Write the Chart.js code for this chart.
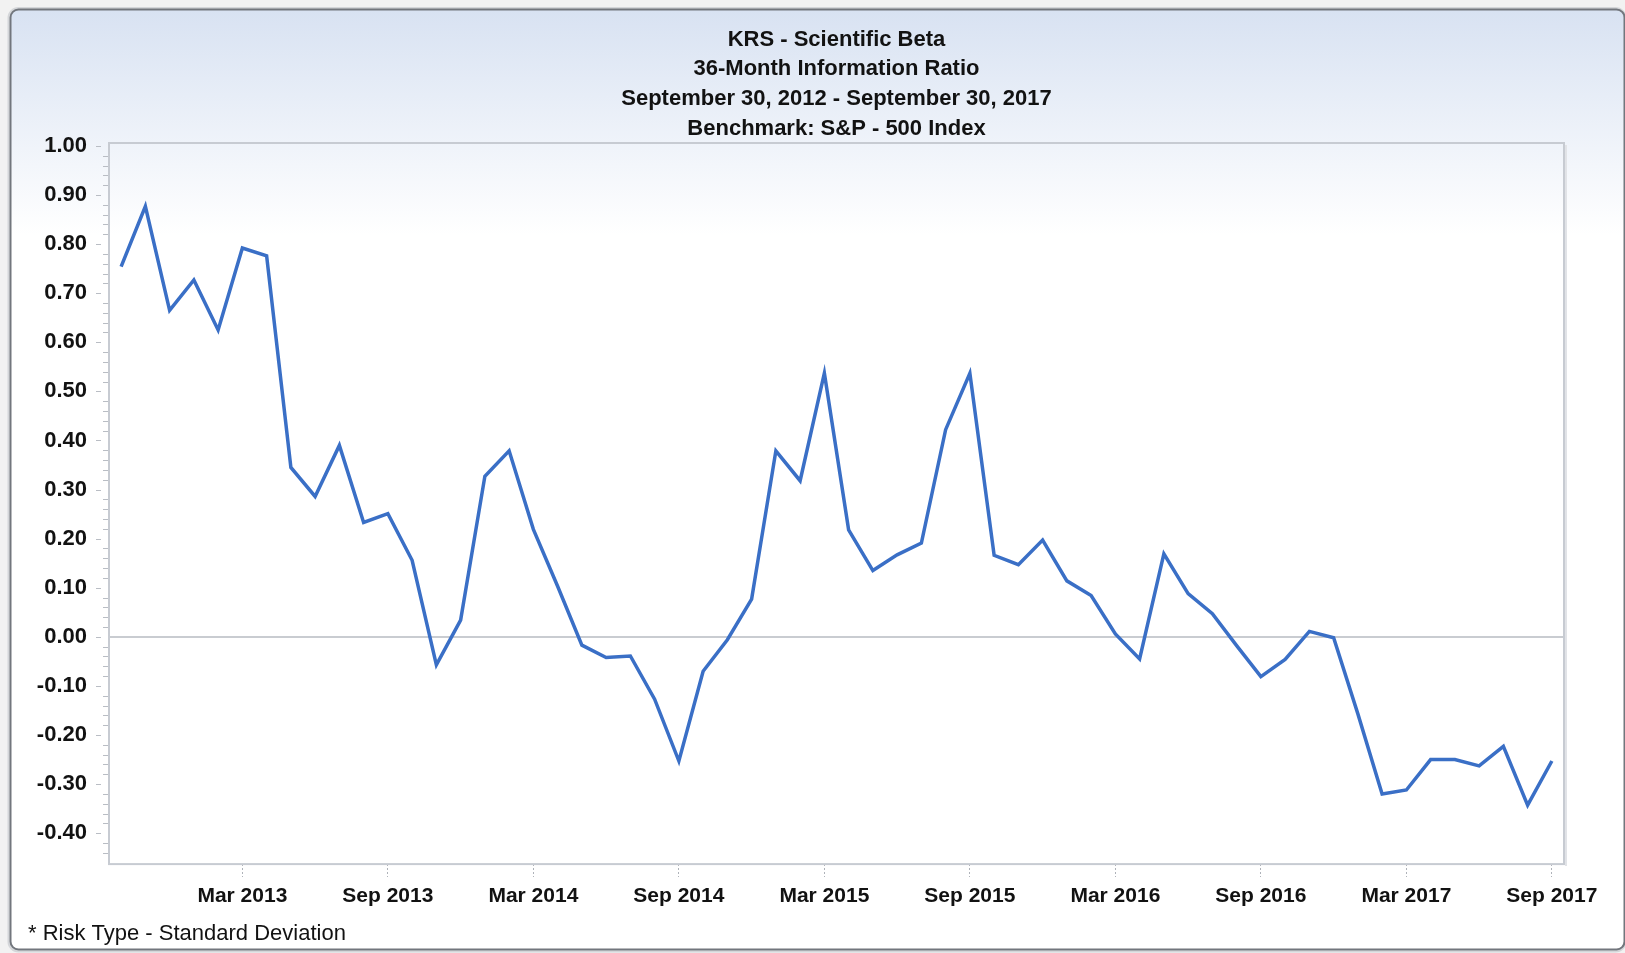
<!DOCTYPE html>
<html>
<head>
<meta charset="utf-8">
<script src="https://cdn.jsdelivr.net/npm/chart.js@4/dist/chart.umd.min.js"></script>
<style>
  html, body { margin: 0; padding: 0; background: #f2f2f2; overflow: hidden; }
  canvas { display: block; }
</style>
</head>
<body>
<canvas id="c" width="1625" height="953"></canvas>
<script>
// ---------------- data ----------------
const categories = [
  'Oct 2012','Nov 2012','Dec 2012',
  'Jan 2013','Feb 2013','Mar 2013','Apr 2013','May 2013','Jun 2013','Jul 2013','Aug 2013','Sep 2013','Oct 2013','Nov 2013','Dec 2013',
  'Jan 2014','Feb 2014','Mar 2014','Apr 2014','May 2014','Jun 2014','Jul 2014','Aug 2014','Sep 2014','Oct 2014','Nov 2014','Dec 2014',
  'Jan 2015','Feb 2015','Mar 2015','Apr 2015','May 2015','Jun 2015','Jul 2015','Aug 2015','Sep 2015','Oct 2015','Nov 2015','Dec 2015',
  'Jan 2016','Feb 2016','Mar 2016','Apr 2016','May 2016','Jun 2016','Jul 2016','Aug 2016','Sep 2016','Oct 2016','Nov 2016','Dec 2016',
  'Jan 2017','Feb 2017','Mar 2017','Apr 2017','May 2017','Jun 2017','Jul 2017','Aug 2017','Sep 2017'
];
const informationRatio = [
  0.754, 0.877, 0.665,
  0.727, 0.625, 0.792, 0.776, 0.345, 0.286, 0.390, 0.233, 0.251, 0.156, -0.057, 0.034,
  0.327, 0.379, 0.219, 0.103, -0.017, -0.042, -0.039, -0.127, -0.253, -0.070, -0.006, 0.077,
  0.379, 0.318, 0.537, 0.218, 0.135, 0.167, 0.191, 0.422, 0.537, 0.166, 0.147, 0.197,
  0.114, 0.084, 0.006, -0.045, 0.169, 0.088, 0.047, -0.018, -0.081, -0.046, 0.011, -0.002,
  -0.157, -0.320, -0.312, -0.250, -0.250, -0.263, -0.223, -0.343, -0.253
];
const xTickLabels = ['Mar 2013','Sep 2013','Mar 2014','Sep 2014','Mar 2015','Sep 2015','Mar 2016','Sep 2016','Mar 2017','Sep 2017'];
const yTickValues = [-0.4, -0.3, -0.2, -0.1, 0, 0.1, 0.2, 0.3, 0.4, 0.5, 0.6, 0.7, 0.8, 0.9, 1.0];
const titleLines = ['KRS - Scientific Beta', '36-Month Information Ratio', 'September 30, 2012 - September 30, 2017', 'Benchmark: S&P - 500 Index'];
const footnoteText = '* Risk Type - Standard Deviation';
const yMin = -0.463;
const yMax = 1.006;

// ---------------- styling ----------------
const FONT = '"Liberation Sans", Arial, Helvetica, sans-serif';
const TEXT = '#121212';

const framePlugin = {
  id: 'frame',
  beforeDraw(chart) {
    const ctx = chart.ctx;
    ctx.save();
    ctx.fillStyle = '#f2f2f2';
    ctx.fillRect(0, 0, chart.width, chart.height);
    const x = 10.5, y = 9.5, w = 1614, h = 940, r = 8;
    ctx.beginPath();
    ctx.roundRect(x - 2, y - 1.5, w + 3, h + 3.5, r + 2);
    ctx.strokeStyle = '#d4d6d9';
    ctx.lineWidth = 2;
    ctx.stroke();
    const g = ctx.createLinearGradient(0, y, 0, 235);
    g.addColorStop(0, '#d8e2f2');
    g.addColorStop(1, '#ffffff');
    ctx.beginPath();
    ctx.roundRect(x, y, w, h, r);
    ctx.fillStyle = g;
    ctx.fill();
    ctx.lineWidth = 2;
    ctx.strokeStyle = '#72767d';
    ctx.stroke();

    // title, centred over the plot area
    const a = chart.chartArea;
    const cx = (a.left + a.right) / 2;
    ctx.fillStyle = TEXT;
    ctx.font = 'bold 22px ' + FONT;
    ctx.textAlign = 'center';
    ctx.textBaseline = 'middle';
    titleLines.forEach((t, i) => ctx.fillText(t, cx, 39.5 + i * 29.9));
    ctx.restore();
  },
  beforeDatasetsDraw(chart) {
    const ctx = chart.ctx;
    const a = chart.chartArea;
    const ys = chart.scales.y;
    ctx.save();
    // plot border with slight shadow
    ctx.strokeStyle = '#e1e3e7';
    ctx.lineWidth = 2;
    ctx.beginPath();
    ctx.moveTo(a.right + 2, a.top + 2);
    ctx.lineTo(a.right + 2, a.bottom + 2);
    ctx.stroke();
    ctx.strokeStyle = '#c7cbd2';
    ctx.lineWidth = 2;
    ctx.strokeRect(a.left, a.top, a.right - a.left, a.bottom - a.top);
    // y tick marks: minor every 0.02, major every 0.10
    ctx.strokeStyle = '#b9bdc4';
    ctx.lineWidth = 1;
    for (let k = -22; k <= 50; k++) {
      const py = Math.round(ys.getPixelForValue(k * 0.02)) + 0.5;
      if (py < a.top + 1) continue;
      ctx.beginPath();
      if (k % 5 === 0) {
        ctx.moveTo(a.left - 13, py);
        ctx.lineTo(a.left - 8, py);
      } else {
        ctx.moveTo(a.left - 6, py);
        ctx.lineTo(a.left - 1, py);
      }
      ctx.stroke();
    }
    ctx.restore();
  }
};

new Chart(document.getElementById('c'), {
  type: 'line',
  data: {
    labels: categories,
    datasets: [{
      data: informationRatio,
      borderColor: '#3a6fc6',
      borderWidth: 3.5,
      pointRadius: 0,
      tension: 0,
      fill: false,
      borderJoinStyle: 'miter'
    }]
  },
  options: {
    responsive: false,
    animation: false,
    devicePixelRatio: 1,
    layout: { padding: { top: 143, left: 28, right: 61, bottom: 6 } },
    plugins: {
      legend: { display: false },
      tooltip: { enabled: false },
      title: { display: false },
      subtitle: {
        display: true,
        text: footnoteText,
        position: 'bottom',
        align: 'start',
        color: TEXT,
        font: { family: FONT, size: 22, weight: 'normal', lineHeight: 1.2 },
        padding: 0
      }
    },
    scales: {
      x: {
        type: 'category',
        offset: true,
        border: { display: false },
        grid: {
          display: true,
          drawOnChartArea: false,
          drawTicks: true,
          tickLength: 13,
          tickWidth: 1,
          tickBorderDash: [2, 2],
          tickBorderDashOffset: 0,
          tickColor: (c) => xTickLabels.includes(categories[c.index]) ? '#aeb2b9' : 'rgba(0,0,0,0)'
        },
        ticks: {
          autoSkip: false,
          maxRotation: 0,
          minRotation: 0,
          padding: 6.5,
          color: TEXT,
          font: { family: FONT, size: 21, weight: 'bold' },
          callback: (v, i) => xTickLabels.includes(categories[i]) ? categories[i] : ''
        },
        afterFit: (s) => { s.height = 56.5; }
      },
      y: {
        min: yMin,
        max: yMax,
        border: { display: false },
        grid: {
          drawTicks: false,
          lineWidth: 2,
          color: (c) => (c.tick && c.tick.value === 0) ? '#c9ccd1' : 'rgba(0,0,0,0)'
        },
        afterBuildTicks: (s) => { s.ticks = yTickValues.map(v => ({ value: v })); },
        ticks: {
          padding: 22,
          color: TEXT,
          font: { family: FONT, size: 22, weight: 'bold' },
          callback: (v) => Number(v).toFixed(2)
        },
        afterFit: (s) => { s.width = 81; }
      }
    }
  },
  plugins: [framePlugin]
});
</script>
</body>
</html>
